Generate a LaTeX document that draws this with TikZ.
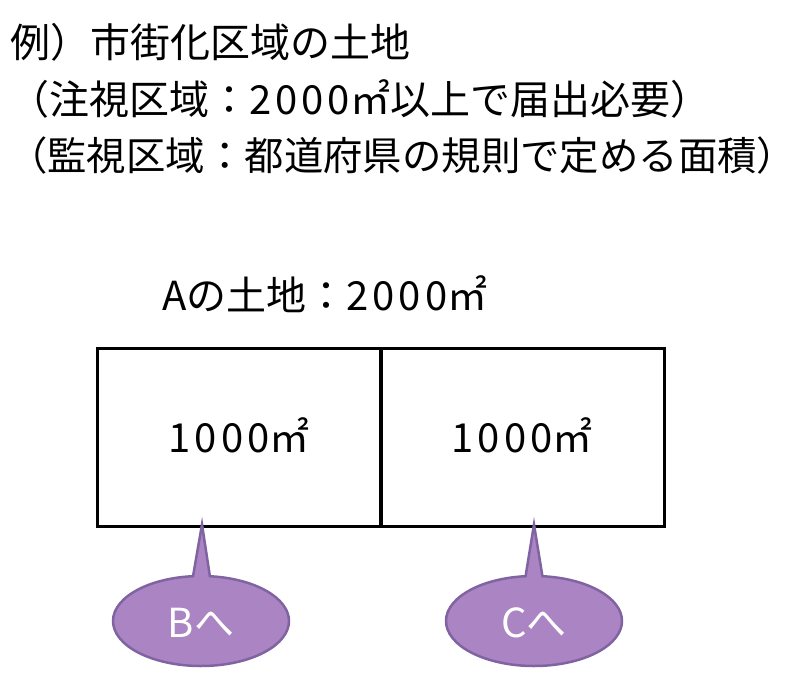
\documentclass[tikz,border=0pt]{standalone}
\usepackage{fontspec}
\setmainfont{Noto Sans CJK JP}
\newfontfamily\widedigits[LetterSpace=10]{Noto Sans CJK JP}
\newcommand{\num}[1]{{\widedigits #1}}
\usetikzlibrary{shapes.callouts}
\definecolor{calfill}{HTML}{AB84C4}
\definecolor{caledge}{HTML}{8064A2}
\tikzset{
  bigtext/.style={font=\fontsize{40}{48}\selectfont, inner sep=0pt},
  plot/.style={draw=black, line width=3pt, minimum width=284pt, minimum height=178pt, inner sep=0pt},
  bubble/.style={ellipse callout, draw=caledge, fill=calfill, line width=2.5pt,
    minimum width=176pt, minimum height=90pt, callout pointer arc=11, inner sep=0pt},
  bubbletext/.style={font=\fontsize{40}{46}\selectfont, text=white, inner sep=0pt}
}
\begin{document}
\begin{tikzpicture}[x=1pt,y=-1pt]
\useasboundingbox (0,0) rectangle (800,693);
\node[bigtext, anchor=base west] (t1) at (10,58) {例）市街化区域の土地};
\node[bigtext, anchor=base west] (t2) at (9,114) {（注視区域：\num{2000}㎡以上で届出必要）};
\node[bigtext, anchor=base west, font=\fontsize{39.4}{48}\selectfont] (t3) at (8,170) {（監視区域：都道府県の規則で定める面積）};
\node[bigtext, anchor=base west] (ta) at (162,310) {Aの土地：\num{2000}㎡};
\node[plot] (boxB) at (239,437) {};
\node[plot] (boxC) at (522,437) {};
\node[bigtext, anchor=base] (lb) at (239,452) {\num{1000}㎡};
\node[bigtext, anchor=base] (lc) at (522,452) {\num{1000}㎡};
\coordinate (tipB) at ([xshift=-37pt,yshift=3pt]boxB.south);
\coordinate (tipC) at ([xshift=12pt,yshift=3pt]boxC.south);
\node[bubble, callout absolute pointer={(tipB)}] (cb) at (201,621) {};
\node[bubble, callout absolute pointer={(tipC)}] (cc) at (534,621) {};
\node[bubbletext, anchor=base] (cbt) at (201,637) {Bへ};
\node[bubbletext, anchor=base] (cct) at (534,637) {Cへ};
\end{tikzpicture}
\end{document}
